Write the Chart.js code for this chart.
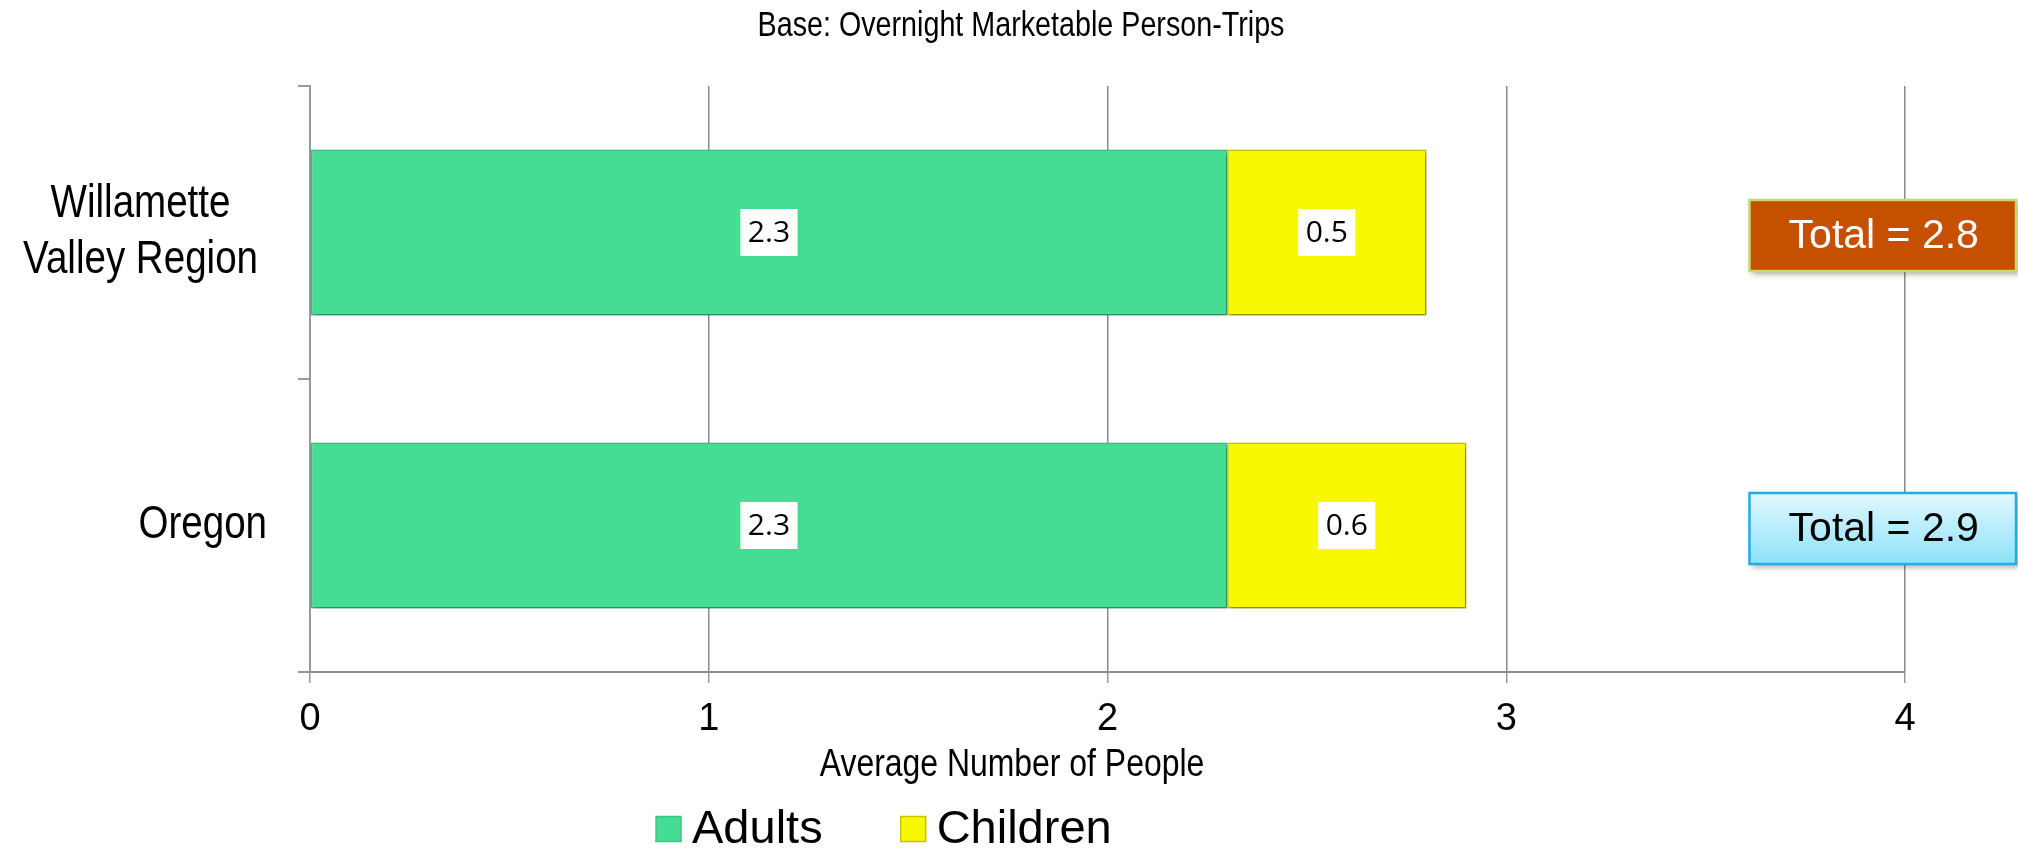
<!DOCTYPE html>
<html>
<head>
<meta charset="utf-8">
<script src="https://cdn.jsdelivr.net/npm/chart.js@4"></script>
<style>
  html, body { margin: 0; padding: 0; background: #fff; }
  #wrap { width: 2018px; height: 849px; }
</style>
</head>
<body>
<div id="wrap"><canvas id="people-chart" width="2018" height="849"></canvas></div>
<script>
// Average party size per overnight trip
const categories = [['Willamette', 'Valley Region'], 'Oregon'];
const adults = [2.3, 2.3];
const children = [0.5, 0.6];
const xTickValues = [0, 1, 2, 3, 4];
const seriesNames = ['Adults', 'Children'];

const chartTitle = 'Base: Overnight Marketable Person-Trips';
const xTitle = 'Average Number of People';

const SANS = '"Liberation Sans", Arial, sans-serif';
const LABEL_FONT = '"Open Sans", Calibri, sans-serif';

const GREEN = '#45dc94';
const YELLOW = '#f8f800';

// draws text squeezed horizontally (condensed look)
function narrowText(ctx, text, x, y, squeeze) {
    ctx.save();
    ctx.translate(x, y);
    ctx.scale(squeeze, 1);
    ctx.fillText(text, 0, 0);
    ctx.restore();
}

// Soft drop shadow under the bars
const barShadow = {
    id: 'barShadow',
    beforeDatasetsDraw(chart) {
        const ctx = chart.ctx;
        ctx.save();
        ctx.shadowColor = 'rgba(0,0,0,0.35)';
        ctx.shadowBlur = 6;
        ctx.shadowOffsetX = 2;
        ctx.shadowOffsetY = 3;
    },
    afterDatasetsDraw(chart) {
        chart.ctx.restore();
    }
};

// Title, category labels, value boxes, totals and legend
const decorations = {
    id: 'decorations',
    afterDraw(chart) {
        const ctx = chart.ctx;
        const xs = chart.scales.x;
        const ys = chart.scales.y;
        const area = chart.chartArea;

        ctx.save();
        ctx.fillStyle = '#000';
        ctx.textBaseline = 'middle';
        ctx.textAlign = 'center';

        // chart title
        ctx.font = '35px ' + SANS;
        narrowText(ctx, chartTitle, 1021, 26, 0.82);

        // x axis title
        ctx.font = '38px ' + SANS;
        narrowText(ctx, xTitle, 1012, 766, 0.84);

        // category labels: lines centred inside a right-aligned block
        const squeeze = 0.82;
        ctx.font = '47px ' + SANS;
        categories.forEach((cat, i) => {
            const lines = Array.isArray(cat) ? cat : [cat];
            const blockW = Math.max(...lines.map(l => ctx.measureText(l).width)) * squeeze;
            const gap = lines.length > 1 ? 52 : 43;
            const cx = area.left - gap - blockW / 2;
            const cy = ys.getPixelForValue(i);
            const lh = 56;
            lines.forEach((l, j) => {
                narrowText(ctx, l, cx, cy + (j - (lines.length - 1) / 2) * lh, squeeze);
            });
        });

        // value boxes on each segment
        ctx.font = '30px ' + LABEL_FONT;
        chart.data.datasets.forEach((ds, di) => {
            chart.getDatasetMeta(di).data.forEach((bar, i) => {
                const { x, y, base } = bar.getProps(['x', 'y', 'base'], true);
                const txt = ds.data[i].toFixed(1);
                const w = ctx.measureText(txt).width + 15;
                const h = 47;
                const cx = (x + base) / 2;
                ctx.fillStyle = '#fff';
                ctx.fillRect(cx - w / 2, y - h / 2, w, h);
                ctx.fillStyle = '#000';
                ctx.fillText(txt, cx, y + 1);
            });
        });

        // total boxes to the right of the bars
        const boxLeft = xs.getPixelForValue(3.61);
        const boxRight = chart.width;
        const boxH = 71;
        categories.forEach((cat, i) => {
            const total = adults[i] + children[i];
            const cy = ys.getPixelForValue(i) + 3;
            const top = cy - boxH / 2;
            ctx.save();
            ctx.shadowColor = 'rgba(0,0,0,0.35)';
            ctx.shadowBlur = 6;
            ctx.shadowOffsetX = 3;
            ctx.shadowOffsetY = 3;
            if (i === 0) {
                ctx.fillStyle = '#c45000';
            } else {
                const g = ctx.createLinearGradient(0, top, 0, top + boxH);
                g.addColorStop(0, '#e2f8fd');
                g.addColorStop(1, '#8ce2fa');
                ctx.fillStyle = g;
            }
            ctx.fillRect(boxLeft, top, boxRight - boxLeft - 2, boxH);
            ctx.restore();
            ctx.lineWidth = 2.5;
            ctx.strokeStyle = i === 0 ? '#c9d86c' : '#22aee5';
            ctx.strokeRect(boxLeft, top, boxRight - boxLeft - 2, boxH);
            ctx.fillStyle = i === 0 ? '#fff' : '#000';
            ctx.font = '41px ' + SANS;
            ctx.fillText('Total = ' + total.toFixed(1), (boxLeft + boxRight) / 2, cy + 1);
        });

        // legend
        ctx.font = '47px ' + SANS;
        ctx.textAlign = 'left';
        let lx = 656;
        const ly = 829;
        chart.data.datasets.forEach((ds, di) => {
            const sq = 25;
            ctx.fillStyle = ds.backgroundColor;
            ctx.fillRect(lx, ly - sq / 2, sq, sq);
            ctx.lineWidth = 1.5;
            ctx.strokeStyle = ds.borderColor;
            ctx.strokeRect(lx, ly - sq / 2, sq, sq);
            ctx.fillStyle = '#000';
            ctx.fillText(ds.label, lx + sq + 11, ly + 1);
            lx += sq + 11 + ctx.measureText(ds.label).width + 78;
        });

        ctx.restore();
    }
};

new Chart(document.getElementById('people-chart'), {
    type: 'bar',
    data: {
        labels: categories,
        datasets: [{
            label: seriesNames[0],
            data: adults,
            backgroundColor: GREEN,
            borderColor: '#3bc684',
            borderWidth: 1.5,
            borderSkipped: false
        }, {
            label: seriesNames[1],
            data: children,
            backgroundColor: YELLOW,
            borderColor: '#c8c400',
            borderWidth: 1.5,
            borderSkipped: false
        }]
    },
    options: {
        indexAxis: 'y',
        responsive: false,
        animation: false,
        barPercentage: 0.567,
        categoryPercentage: 1,
        layout: { padding: { top: 86, right: 113, bottom: 0, left: 0 } },
        plugins: {
            legend: { display: false },
            title: { display: false },
            tooltip: { enabled: false }
        },
        scales: {
            x: {
                stacked: true,
                min: xTickValues[0],
                max: xTickValues[xTickValues.length - 1],
                afterBuildTicks: (scale) => { scale.ticks = xTickValues.map(v => ({ value: v })); },
                afterFit: (scale) => { scale.height = 177; },
                ticks: {
                    color: '#000',
                    padding: 14,
                    font: { family: SANS, size: 38 }
                },
                grid: { color: '#8a8a8a', lineWidth: 1.5, tickLength: 11, tickColor: '#999' },
                border: { color: '#8c8c8c', width: 2 }
            },
            y: {
                stacked: true,
                afterFit: (scale) => { scale.width = 310; },
                ticks: { display: false },
                grid: { offset: true, drawOnChartArea: false, tickLength: 12, color: '#999', lineWidth: 2 },
                border: { color: '#999', width: 2 }
            }
        }
    },
    plugins: [barShadow, decorations]
});
</script>
</body>
</html>
